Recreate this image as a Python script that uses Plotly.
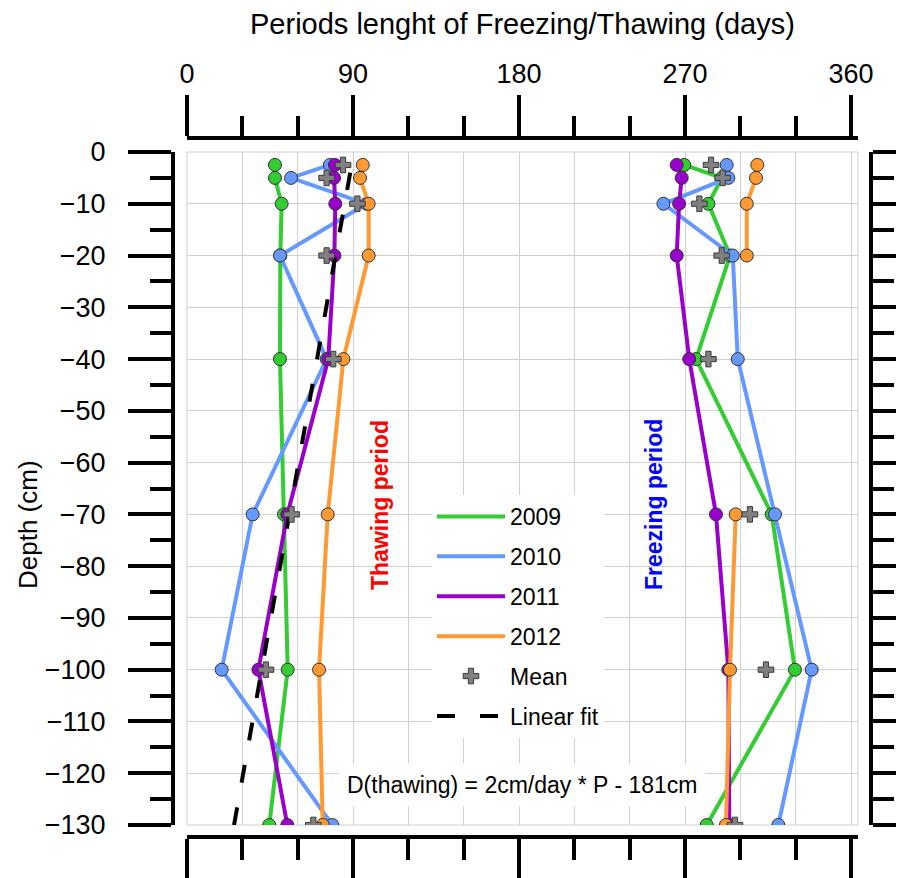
import plotly.graph_objects as go

# ---------------- data ----------------
depths = [-2.5, -5, -10, -20, -40, -70, -100, -130]
years = ["2009", "2010", "2011", "2012"]

thaw_2009 = [47.7, 47.7, 51.3, 50.6, 50.4, 52.6, 54.6, 44.6]
thaw_2010 = [77.5, 56.4, 97.4, 50.4, 75.7, 35.6, 18.8, 78.8]
thaw_2011 = [80.2, 79.7, 80.4, 79.9, 76.6, 54.4, 38.7, 54.4]
thaw_2012 = [95.3, 93.8, 98.5, 98.5, 84.8, 76.3, 71.6, 73.6]
thaw_mean = [84.6, 75.7, 92.4, 75.7, 79.3, 56.7, 42.8, 68.5]

freeze_2009 = [269.6, 289.9, 282.7, 294.4, 276.0, 317.0, 329.6, 281.8]
freeze_2010 = [292.6, 293.5, 258.3, 295.9, 298.6, 318.8, 338.7, 320.6]
freeze_2011 = [265.5, 268.2, 266.8, 265.5, 272.3, 286.8, 293.5, 294.0]
freeze_2012 = [309.2, 308.5, 303.5, 303.5, None, 297.5, 294.4, 292.2]
freeze_mean = [284.1, 290.4, 277.8, 289.9, 282.7, 305.2, 313.9, 297.1]

# linear fit of thawing: D = slope * P + intercept
fit_slope = 2.0
fit_intercept = -181.0
fit_p = [25.5, 88.5]

colors = ["#33cc33", "#6699ff", "#9900cc", "#ff9933"]
x_ticks = [0, 90, 180, 270, 360]

# ---------------- figure ----------------
FONT = "Liberation Sans, Arial, sans-serif"
OFF = 8                      # page body margin
W, H = 904 - OFF, 878 - OFF
ML, MR, MT, MB = 92, 4, 52, 12
PW, PH = W - ML - MR, H - MT - MB


def px_x(px):
    """page x pixel -> paper fraction"""
    return (px - OFF - ML) / PW


def px_y(py):
    """page y pixel -> paper fraction"""
    return (H - MB - (py - OFF)) / PH


fig = go.Figure()

thaw = [thaw_2009, thaw_2010, thaw_2011, thaw_2012]
freeze = [freeze_2009, freeze_2010, freeze_2011, freeze_2012]

for i, (yr, col, tv, fv) in enumerate(zip(years, colors, thaw, freeze)):
    line = dict(color=col, width=4)
    mk = dict(size=13, color=col, line=dict(color="#333333", width=1))
    fig.add_trace(go.Scatter(x=tv, y=depths, mode="lines", line=line, name=yr,
                             legendgroup=yr, legendrank=i + 1, showlegend=True))
    fig.add_trace(go.Scatter(x=fv, y=depths, mode="lines", line=line, name=yr,
                             legendgroup=yr, showlegend=False, connectgaps=False))
    fig.add_trace(go.Scatter(x=tv, y=depths, mode="markers", marker=mk, name=yr,
                             legendgroup=yr, showlegend=False))
    fig.add_trace(go.Scatter(x=fv, y=depths, mode="markers", marker=mk, name=yr,
                             legendgroup=yr, showlegend=False))

fit_d = [fit_slope * p + fit_intercept for p in fit_p]
fig.add_trace(go.Scatter(x=fit_p, y=fit_d, mode="lines", name="Linear fit",
                         legendgroup="fit", legendrank=6,
                         line=dict(color="black", width=4, dash="18px,25px")))

mean_marker = dict(symbol="cross", size=13, color="#808080",
                   line=dict(color="#3a3a3a", width=1))
fig.add_trace(go.Scatter(x=thaw_mean, y=depths, mode="markers", name="Mean",
                         legendgroup="mean", legendrank=5, marker=mean_marker))
fig.add_trace(go.Scatter(x=freeze_mean, y=depths, mode="markers", name="Mean",
                         legendgroup="mean", showlegend=False, marker=mean_marker))

# dummy trace to attach the mirrored (top / right) axes
fig.add_trace(go.Scatter(x=[None], y=[None], xaxis="x2", yaxis="y2",
                         showlegend=False, hoverinfo="skip"))

xdom = [px_x(187), px_x(858)]
ydom = [px_y(825), px_y(152)]
xrange_ = [0, 360 * (858 - 187) / (851 - 187)]
yrange_ = [-130, 0]

axis_common = dict(showline=True, linecolor="black", linewidth=4,
                   ticks="outside", tickcolor="black", tickwidth=4,
                   zeroline=False, automargin=False,
                   tickfont=dict(family=FONT, size=27, color="black"))

GRID = "#d0d0d0"
grid = dict(showgrid=True, gridcolor=GRID, gridwidth=1)

fig.update_layout(
    width=W, height=H,
    margin=dict(l=ML, r=MR, t=MT, b=MB),
    paper_bgcolor="white", plot_bgcolor="white",
    font=dict(family=FONT, color="black"),
    xaxis=dict(domain=xdom, range=xrange_, anchor="free", position=px_y(837),
               side="bottom", tickvals=x_ticks, ticklen=42, showticklabels=False,
               minor=dict(dtick=30, tick0=0, ticklen=21, tickwidth=4, tickcolor="black",
                          ticks="outside", showgrid=True, gridcolor=GRID, gridwidth=1),
               **grid, **axis_common),
    xaxis2=dict(domain=xdom, range=xrange_, overlaying="x", anchor="free",
                position=px_y(138), side="top", tickvals=x_ticks, ticklen=41,
                showticklabels=True, ticklabelstandoff=1, showgrid=False,
                minor=dict(dtick=30, tick0=0, ticklen=20, tickwidth=4, tickcolor="black",
                           ticks="outside"),
                **axis_common),
    yaxis=dict(domain=ydom, range=yrange_, anchor="free", position=px_x(173),
               side="left", dtick=10, tick0=0, ticklen=43, ticklabelstandoff=17,
               minor=dict(dtick=5, tick0=0, ticklen=21, tickwidth=4, tickcolor="black",
                          ticks="outside"),
               **grid, **axis_common),
    yaxis2=dict(domain=ydom, range=yrange_, overlaying="y", anchor="free",
                position=px_x(871), side="right", dtick=10, tick0=0, ticklen=43,
                showticklabels=False, showgrid=False,
                minor=dict(dtick=5, tick0=0, ticklen=21, tickwidth=4, tickcolor="black",
                           ticks="outside"),
                **axis_common),
    legend=dict(x=px_x(432), y=px_y(495), xanchor="left", yanchor="top",
                bgcolor="white", borderwidth=0, tracegroupgap=7, itemwidth=68,
                traceorder="grouped",
                font=dict(family=FONT, size=23, color="black")),
    showlegend=True,
)

# light border round the plot area
fig.add_shape(type="rect", xref="paper", yref="paper",
              x0=xdom[0], x1=xdom[1], y0=ydom[0], y1=ydom[1],
              line=dict(color=GRID, width=1), layer="below")

ann = dict(xref="paper", yref="paper", showarrow=False,
           xanchor="center", yanchor="middle")
fig.add_annotation(text="Periods lenght of Freezing/Thawing (days)",
                   x=px_x(522), y=px_y(24),
                   font=dict(family=FONT, size=29, color="black"), **ann)
fig.add_annotation(text="Depth (cm)", textangle=-90,
                   x=px_x(28), y=px_y(525),
                   font=dict(family=FONT, size=26, color="black"), **ann)
fig.add_annotation(text="<b>Thawing period</b>", textangle=-90,
                   x=px_x(380), y=px_y(505),
                   font=dict(family=FONT, size=23, color="#ff0000"), **ann)
fig.add_annotation(text="<b>Freezing period</b>", textangle=-90,
                   x=px_x(654), y=px_y(505),
                   font=dict(family=FONT, size=23, color="#0000ff"), **ann)
fig.add_annotation(text="D(thawing) = 2cm/day * P - 181cm",
                   x=px_x(522), y=px_y(785), bgcolor="white", borderpad=8,
                   font=dict(family=FONT, size=23, color="black"), **ann)

fig.write_html("out.html")
